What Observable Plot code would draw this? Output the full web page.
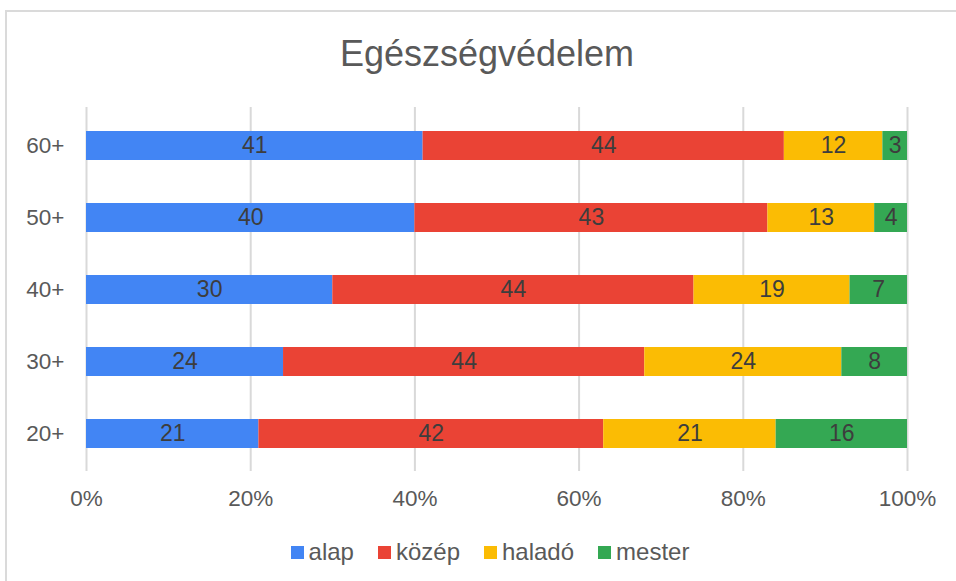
<!DOCTYPE html>
<html>
<head>
<meta charset="utf-8">
<script src="https://cdn.jsdelivr.net/npm/d3@7"></script>
<script src="https://cdn.jsdelivr.net/npm/@observablehq/plot@0.6"></script>
<style>
  html, body { margin: 0; padding: 0; background: #fff; }
  body { width: 956px; height: 581px; overflow: hidden; position: relative; font-family: "Liberation Sans", Arial, sans-serif; }
  #frame { position: absolute; left: 5px; top: 10px; width: 1000px; height: 700px; border-left: 2px solid #dadada; border-top: 2px solid #dadada; box-sizing: border-box; }
  #title { position: absolute; left: 0; top: 0; width: 974px; height: 90px; text-align: center; line-height: 108px; font-size: 36px; color: #595959; }
  #chart { position: absolute; left: 0; top: 90px; }
  #legend { position: absolute; left: 0; top: 538px; width: 956px; display: flex; justify-content: center; font-size: 24px; line-height: 28px; color: #595959; padding-left: 24px; box-sizing: border-box; }
  .item { display: flex; align-items: center; margin: 0 12px; }
  .sw { width: 13px; height: 13px; margin-right: 5px; }
</style>
</head>
<body>
<div id="frame"></div>
<div id="title">Egészségvédelem</div>
<div id="chart"></div>
<div id="legend"></div>
<script>
const categories = ["60+", "50+", "40+", "30+", "20+"];
const levels = ["alap", "közép", "haladó", "mester"];
const colors = ["#4285F4", "#EA4335", "#FBBC04", "#34A853"];
const alap = [41, 40, 30, 24, 21];
const kozep = [44, 43, 44, 44, 42];
const halado = [12, 13, 19, 24, 21];
const mester = [3, 4, 7, 8, 16];
const xTicks = [0, 20, 40, 60, 80, 100];

const series = [alap, kozep, halado, mester];
const data = [];
categories.forEach((c, i) => {
  levels.forEach((l, j) => data.push({cat: c, level: l, value: series[j][i]}));
});

const plot = Plot.plot({
  width: 956,
  height: 430,
  marginTop: 17,
  marginBottom: 49,
  marginLeft: 86,
  marginRight: 49,
  style: {fontFamily: "'Liberation Sans', Arial, sans-serif", fontSize: "22.5px", color: "#595959", background: "transparent"},
  x: {domain: [0, 100], ticks: xTicks, tickFormat: d => d + "%", label: null, tickSize: 0, tickPadding: 19},
  y: {domain: categories, label: null, tickSize: 0, tickPadding: 22, paddingInner: 0.6, paddingOuter: 0.3},
  color: {domain: levels, range: colors},
  marks: [
    Plot.ruleX(xTicks, {stroke: "#d9d9d9", strokeWidth: 2, strokeOpacity: 1}),
    Plot.barX(data, Plot.stackX({x: "value", y: "cat", fill: "level", z: "level", inset: 0})),
    Plot.text(data, Plot.stackX({x: "value", y: "cat", z: "level", text: d => String(d.value), fill: "#3d3d3d", fontSize: 23}))
  ]
});
document.getElementById("chart").appendChild(plot);

const legend = document.getElementById("legend");
levels.forEach((l, i) => {
  const it = document.createElement("div");
  it.className = "item";
  const sw = document.createElement("div");
  sw.className = "sw";
  sw.style.background = colors[i];
  const t = document.createElement("span");
  t.textContent = l;
  it.appendChild(sw);
  it.appendChild(t);
  legend.appendChild(it);
});
</script>
</body>
</html>
